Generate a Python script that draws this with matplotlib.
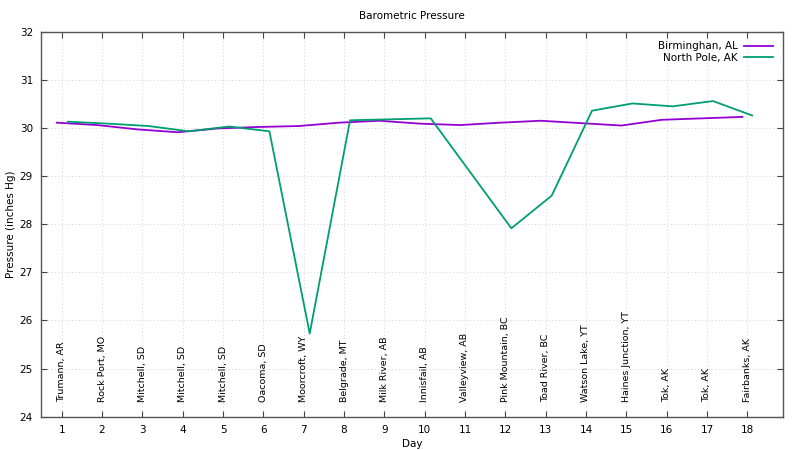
import numpy as np
import matplotlib
matplotlib.use("Agg")
import matplotlib.pyplot as plt

days = list(range(1, 19))
locations = ["Trumann, AR", "Rock Port, MO", "Mitchell, SD", "Mitchell, SD", "Mitchell, SD",
             "Oacoma, SD", "Moorcroft, WY", "Belgrade, MT", "Milk River, AB", "Innisfail, AB",
             "Valleyview, AB", "Pink Mountain, BC", "Toad River, BC", "Watson Lake, YT",
             "Haines Junction, YT", "Tok, AK", "Tok, AK", "Fairbanks, AK"]

birmingham_day = [0.88, 1.88, 2.88, 3.88, 4.88, 5.88, 6.88, 7.88, 8.88, 9.88,
                  10.88, 11.88, 12.88, 13.88, 14.88, 15.88, 16.88, 17.88]
birmingham_p = [30.12, 30.07, 29.98, 29.92, 30.00, 30.03, 30.05, 30.12, 30.16, 30.10,
                30.07, 30.12, 30.16, 30.11, 30.06, 30.18, 30.21, 30.24]

northpole_day = [1.15, 2.15, 3.15, 4.15, 5.15, 6.15, 7.15, 8.15, 9.15, 10.15,
                 12.15, 13.15, 14.15, 15.15, 16.15, 17.15, 18.12]
northpole_p = [30.14, 30.10, 30.05, 29.94, 30.04, 29.94, 25.73, 30.17, 30.19, 30.21,
               27.92, 28.60, 30.37, 30.52, 30.46, 30.57, 30.27]

fs = 7.5
fig = plt.figure(figsize=(8, 4.5), dpi=100)
ax = fig.add_axes([0.0516, 0.0744, 0.9274, 0.8536])

ax.plot(birmingham_day, birmingham_p, color="#9400D3", lw=1.3, label="Birminghan, AL")
ax.plot(northpole_day, northpole_p, color="#009E73", lw=1.3, label="North Pole, AK")

for d, name in zip(days, locations):
    ax.text(d, 24.3, name, rotation=90, ha="center", va="bottom", fontsize=6.8, color="black")

ax.set_xlim(0.494, 18.89)
ax.set_ylim(24, 32)
ax.set_xticks(days)
ax.set_yticks(range(24, 33))
ax.tick_params(direction="in", top=True, right=True, labelsize=fs, length=4,
               color="#444444")
ax.tick_params(axis="x", pad=6)
ax.tick_params(axis="y", pad=6)
ax.grid(True, color="#d4d4d4", linestyle=(0, (1, 2.5)), lw=0.7)
for s in ax.spines.values():
    s.set_color("#555555")
    s.set_linewidth(1.0)

ax.set_title("Barometric Pressure", fontsize=fs, pad=10)
ax.set_xlabel("Day", fontsize=fs, labelpad=3)
ax.set_ylabel("Pressure (inches Hg)", fontsize=fs)
ax.yaxis.set_label_coords(-0.034, 0.5)

leg = ax.legend(loc="upper right", frameon=False, fontsize=fs, markerfirst=False,
                handlelength=2.8, borderaxespad=0.1, labelspacing=0.15, handletextpad=0.6,
                bbox_to_anchor=(0.993, 0.99))
for t in leg.get_texts():
    t.set_ha("right")

fig.savefig("out.png", dpi=100)
